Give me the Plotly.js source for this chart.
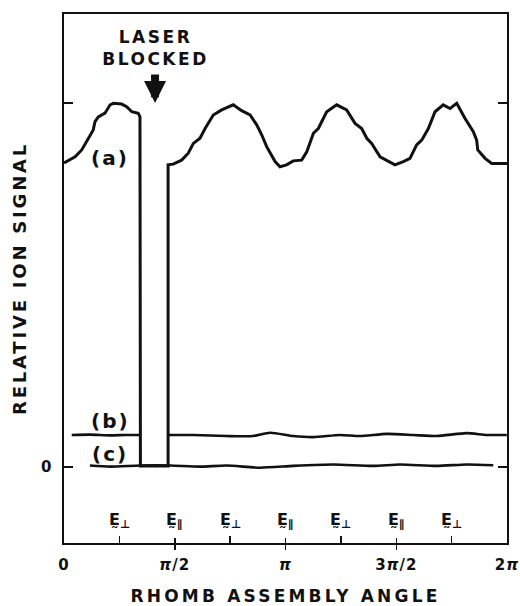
<!DOCTYPE html>
<html>
<head>
<meta charset="utf-8">
<script src="https://cdn.plot.ly/plotly-3.0.1.min.js"></script>
<style>
  html, body { margin: 0; padding: 0; background: #fff; }
  #chart { width: 520px; height: 606px; }
  .xtitle { letter-spacing: 3.2px; }
  .ytitle { letter-spacing: 2.8px; }
  .xtick text { letter-spacing: 1px; }
</style>
</head>
<body>
<div id="chart"></div>
<script>
// Rhomb assembly angle in units of pi; signals relative to the E-perp maximum.

// (a) signal with the laser on, including the interval where the laser was blocked
const angleA = [0, 0.012, 0.050, 0.080, 0.102, 0.132, 0.140, 0.155, 0.185, 0.208, 0.223, 0.260, 0.283, 0.306, 0.335, 0.343,
  0.345, 0.470,
  0.470, 0.493, 0.531, 0.561, 0.584, 0.614, 0.637, 0.674, 0.712, 0.764, 0.802, 0.840, 0.870, 0.893, 0.915, 0.930,
  0.953, 0.975, 1.005, 1.035, 1.073, 1.096, 1.126, 1.148, 1.186, 1.231, 1.276, 1.314, 1.344, 1.367, 1.389, 1.427,
  1.464, 1.494, 1.532, 1.562, 1.592, 1.615, 1.645, 1.675, 1.712, 1.743, 1.773, 1.810, 1.848, 1.863, 1.868, 1.901,
  1.931, 2.0];
const signalA = [0.835, 0.839, 0.852, 0.871, 0.894, 0.926, 0.949, 0.962, 0.972, 0.995, 0.999, 0.997, 0.990, 0.976, 0.972, 0.962,
  0.003, 0.003,
  0.830, 0.832, 0.843, 0.862, 0.889, 0.903, 0.930, 0.967, 0.981, 0.995, 0.979, 0.967, 0.940, 0.912, 0.880, 0.865,
  0.839, 0.825, 0.830, 0.841, 0.843, 0.866, 0.917, 0.930, 0.976, 0.995, 0.981, 0.944, 0.930, 0.903, 0.889, 0.852,
  0.839, 0.830, 0.839, 0.848, 0.885, 0.898, 0.930, 0.976, 0.995, 0.985, 0.999, 0.958, 0.921, 0.898, 0.871, 0.848,
  0.834, 0.834];

// (b) background signal (null marks the blocked interval)
const angleB = [0.035, 0.117, 0.208, 0.275, 0.343, null, 0.471, 0.584, 0.735, 0.853, 0.930, 1.035, 1.126, 1.246, 1.336,
  1.457, 1.577, 1.683, 1.818, 1.908, 1.999];
const signalB = [0.088, 0.089, 0.087, 0.088, 0.088, null, 0.088, 0.088, 0.085, 0.085, 0.094, 0.085, 0.082, 0.088, 0.085,
  0.091, 0.088, 0.085, 0.093, 0.088, 0.088];

// (c) baseline
const angleC = [0.117, 0.208, 0.343, 0.479, 0.614, 0.735, 0.885, 1.035, 1.216, 1.396, 1.517, 1.683, 1.818, 1.938];
const signalC = [0.004, 0.001, 0.004, 0.004, 0.001, 0.004, -0.002, 0.003, 0.007, 0.003, 0.007, 0.003, 0.007, 0.005];

// axis ticks
const xTickVals = [0, 0.5, 1, 1.5, 2];
const xTickText = ['0', '<i>π</i>/2', '<i>π</i>', '3<i>π</i>/2', '2<i>π</i>'];
const xMinorVals = [0.25, 0.75, 1.25, 1.75];
const xMajorVals = [0.5, 1, 1.5];
const yTickVals = [0];
const yTickText = ['0'];
const yMinorVals = [1];

// polarization markers along the angle axis
const polAngles = [0.25, 0.5, 0.75, 1, 1.25, 1.5, 1.75];
const polLabels = ['E\u0330<sub>⊥</sub>', 'E\u0330<sub>∥</sub>', 'E\u0330<sub>⊥</sub>', 'E\u0330<sub>∥</sub>',
  'E\u0330<sub>⊥</sub>', 'E\u0330<sub>∥</sub>', 'E\u0330<sub>⊥</sub>'];

// curve labels
const curveNames = ['(a)', '(b)', '(c)'];
const curveLabelX = [0.208, 0.208, 0.208];
const curveLabelY = [0.849, 0.126, 0.036];

const ink = '#111';
const FONT = 'DejaVu Sans, Liberation Sans, sans-serif';

const traces = [
  { x: angleA, y: signalA, type: 'scatter', mode: 'lines', line: { color: ink, width: 3 }, hoverinfo: 'skip' },
  { x: angleB, y: signalB, type: 'scatter', mode: 'lines', xaxis: 'x2', connectgaps: false,
    line: { color: ink, width: 2.6, shape: 'spline', smoothing: 0.6 }, hoverinfo: 'skip' },
  { x: angleC, y: signalC, type: 'scatter', mode: 'lines',
    line: { color: ink, width: 2.6, shape: 'spline', smoothing: 0.6 }, hoverinfo: 'skip' }
];

// letter spacing per annotation group
const spacing = [];
const annotations = [];
polAngles.forEach((a, i) => {
  annotations.push({
    x: a, y: -0.148, xref: 'x', yref: 'y', text: polLabels[i], showarrow: false,
    font: { family: FONT, size: 16, color: ink, weight: 700 }
  });
  spacing.push('0px');
});
curveNames.forEach((t, i) => {
  annotations.push({
    x: curveLabelX[i], y: curveLabelY[i], xref: 'x', yref: 'y', text: t, showarrow: false,
    font: { family: FONT, size: 20, color: ink, weight: 700 }
  });
  spacing.push('2px');
});
annotations.push({
  x: 0.415, y: 1.152, xref: 'x', yref: 'y', text: 'LASER<br>BLOCKED', showarrow: false,
  font: { family: FONT, size: 17, color: ink, weight: 700 }
});
spacing.push('2.5px');
annotations.push({
  x: 0.411, y: 1.0, xref: 'x', yref: 'y', text: '', showarrow: true,
  ax: 0, ay: -30, arrowhead: 2, arrowsize: 0.55, arrowwidth: 8, arrowcolor: ink, standoff: 0
});
spacing.push('0px');

const layout = {
  width: 520, height: 606,
  margin: { l: 64, r: 13, t: 14, b: 63 },
  paper_bgcolor: '#fff', plot_bgcolor: '#fff',
  showlegend: false,
  font: { family: FONT, color: ink },
  xaxis: {
    range: [0, 2], showgrid: false, zeroline: false,
    showline: true, mirror: true, linecolor: ink, linewidth: 1.6,
    tickmode: 'array', tickvals: xTickVals, ticktext: xTickText,
    ticks: 'inside', ticklen: 5, tickwidth: 1.5, tickcolor: ink,
    minor: { tickmode: 'array', tickvals: xMinorVals, ticks: 'inside', ticklen: 7, tickwidth: 1.5, tickcolor: ink },
    ticklabelstandoff: 7,
    tickfont: { family: FONT, size: 15, color: ink, weight: 700 },
    title: { text: 'RHOMB ASSEMBLY ANGLE', standoff: 21,
      font: { family: FONT, size: 17, color: ink, weight: 700 } }
  },
  xaxis2: {
    range: [0, 2], overlaying: 'x', anchor: 'y', side: 'bottom',
    showgrid: false, zeroline: false, showline: false, showticklabels: false,
    tickmode: 'array', tickvals: xMajorVals,
    ticks: 'outside', ticklen: 6, tickwidth: 1.5, tickcolor: ink
  },
  yaxis: {
    range: [-0.2088, 1.2445], showgrid: false, zeroline: false,
    showline: true, mirror: 'ticks', linecolor: ink, linewidth: 1.6,
    tickmode: 'array', tickvals: yTickVals, ticktext: yTickText,
    ticks: 'inside', ticklen: 9, tickwidth: 1.5, tickcolor: ink,
    minor: { tickmode: 'array', tickvals: yMinorVals, ticks: 'inside', ticklen: 9, tickwidth: 1.5, tickcolor: ink },
    ticklabelstandoff: 8,
    tickfont: { family: FONT, size: 15, color: ink, weight: 700 },
    title: { text: 'RELATIVE ION SIGNAL', standoff: 9,
      font: { family: FONT, size: 18, color: ink, weight: 700 } }
  },
  annotations: annotations
};

Plotly.newPlot('chart', traces, layout, { staticPlot: true, displayModeBar: false }).then(gd => {
  gd.querySelectorAll('.annotation').forEach(g => {
    const i = +g.getAttribute('data-index');
    const t = g.querySelector('.annotation-text');
    if (t && spacing[i]) t.style.letterSpacing = spacing[i];
  });
});
</script>
</body>
</html>
